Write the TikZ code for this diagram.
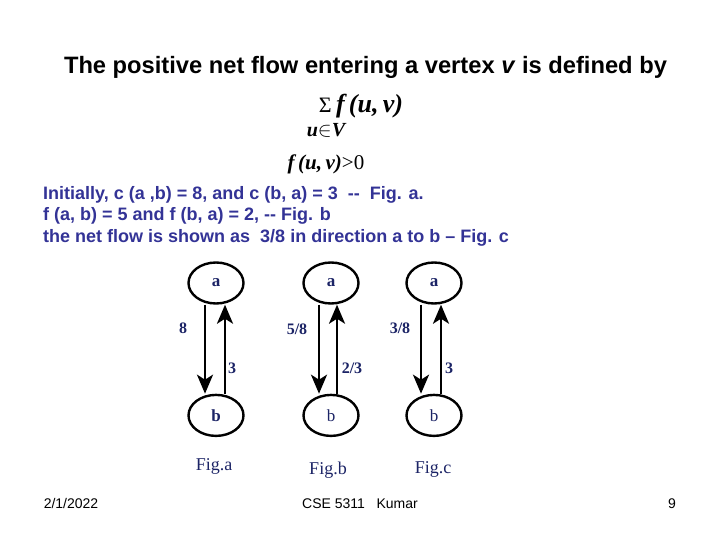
\documentclass[tikz,border=0pt]{standalone}
\usepackage{fontspec}
\setmainfont{Liberation Serif}
\setsansfont{Liberation Sans}
\usepackage{xcolor}
\usepackage{tikz}
\usetikzlibrary{positioning,arrows.meta,shapes.geometric}
\definecolor{labelnavy}{RGB}{28,36,102}
\definecolor{textnavy}{RGB}{51,51,150}
\newcommand{\fsz}[1]{\fontsize{#1}{#1}\selectfont}

\begin{document}
\begin{tikzpicture}[x=1pt, y=-1pt, node distance=89pt,
  vertex/.style={draw, ellipse, line width=2.4pt, minimum width=55pt, minimum height=41pt, inner sep=0pt, font=\fsz{17}, text=labelnavy},
  flow/.style={line width=2.6pt, -{Stealth[length=19pt, width=16pt, inset=5pt]}},
  wt/.style={font=\fsz{16}\bfseries, text=labelnavy, inner sep=1pt},
  figcap/.style={font=\fsz{18}, text=labelnavy},
  slidetext/.style={font=\sffamily\fsz{18}\bfseries, text=textnavy, anchor=base west, inner sep=0pt},
  footer/.style={font=\sffamily\fsz{14}, anchor=base, inner sep=0pt}]
\path[use as bounding box] (0,0) rectangle (720,540);

% heading and formula
\node[font=\sffamily\fsz{23.7}\bfseries, anchor=base, inner sep=0pt] (title) at (365.5,74) {The positive net flow entering a vertex \textit{v} is defined by};
\node[font=\fsz{26}\bfseries\itshape, anchor=base, inner sep=0pt] (sum) at (361,113) {{\fsz{22}\upshape\mdseries Σ}\,f\,(u,\,v)};
\node[font=\fsz{20}\bfseries\itshape, anchor=base, inner sep=0pt] (range) at (326,137) {u$\in$V};
\node[font=\fsz{21}\bfseries\itshape, anchor=base, inner sep=0pt] (cond) at (326,170) {f\,(u,\,v){\upshape\mdseries >0}};

% explanation
\node[slidetext] (line1) at (43,200) {Initially, c (a ,b) = 8, and c (b, a) = 3\ \ -{}-\ \ Fig. a.};
\node[slidetext] (line2) at (43,221) {f (a, b) = 5 and f (b, a) = 2, -{}- Fig. b};
\node[slidetext] (line3) at (43,242) {the net flow is shown as\ \ 3/8 in direction a to b -- Fig. c};

% Fig. a
\node[vertex, font=\fsz{17}\bfseries] (a1) at (216,283) {a};
\node[vertex, font=\fsz{17}\bfseries, below=of a1] (b1) {b};
\draw[flow] ([xshift=-11]a1.south) -- node[wt, pos=.27, xshift=-22pt] {8} ([xshift=-11]b1.north);
\draw[flow] ([xshift=9]b1.north) -- node[wt, pos=.29, xshift=7pt] {3} ([xshift=9]a1.south);
\node[figcap] (capa) at (214,466) {Fig.a};

% Fig. b
\node[vertex, font=\fsz{17}\bfseries] (a2) at (331,283) {a};
\node[vertex, below=of a2] (b2) {b};
\draw[flow] ([xshift=-12]a2.south) -- node[wt, pos=.28, xshift=-22pt] {5/8} ([xshift=-12]b2.north);
\draw[flow] ([xshift=6]b2.north) -- node[wt, pos=.29, xshift=15pt] {2/3} ([xshift=6]a2.south);
\node[figcap] (capb) at (328,470) {Fig.b};

% Fig. c
\node[vertex, font=\fsz{17}\bfseries] (a3) at (434,283) {a};
\node[vertex, below=of a3] (b3) {b};
\draw[flow] ([xshift=-13]a3.south) -- node[wt, pos=.27, xshift=-21pt] {3/8} ([xshift=-13]b3.north);
\draw[flow] ([xshift=7]b3.north) -- node[wt, pos=.29, xshift=8pt] {3} ([xshift=7]a3.south);
\node[figcap] (capc) at (433,469) {Fig.c};

% footer
\node[footer] (date) at (71,508) {2/1/2022};
\node[footer] (course) at (360,508) {CSE 5311\ \ \ Kumar};
\node[footer] (page) at (672,508) {9};
\end{tikzpicture}
\end{document}
